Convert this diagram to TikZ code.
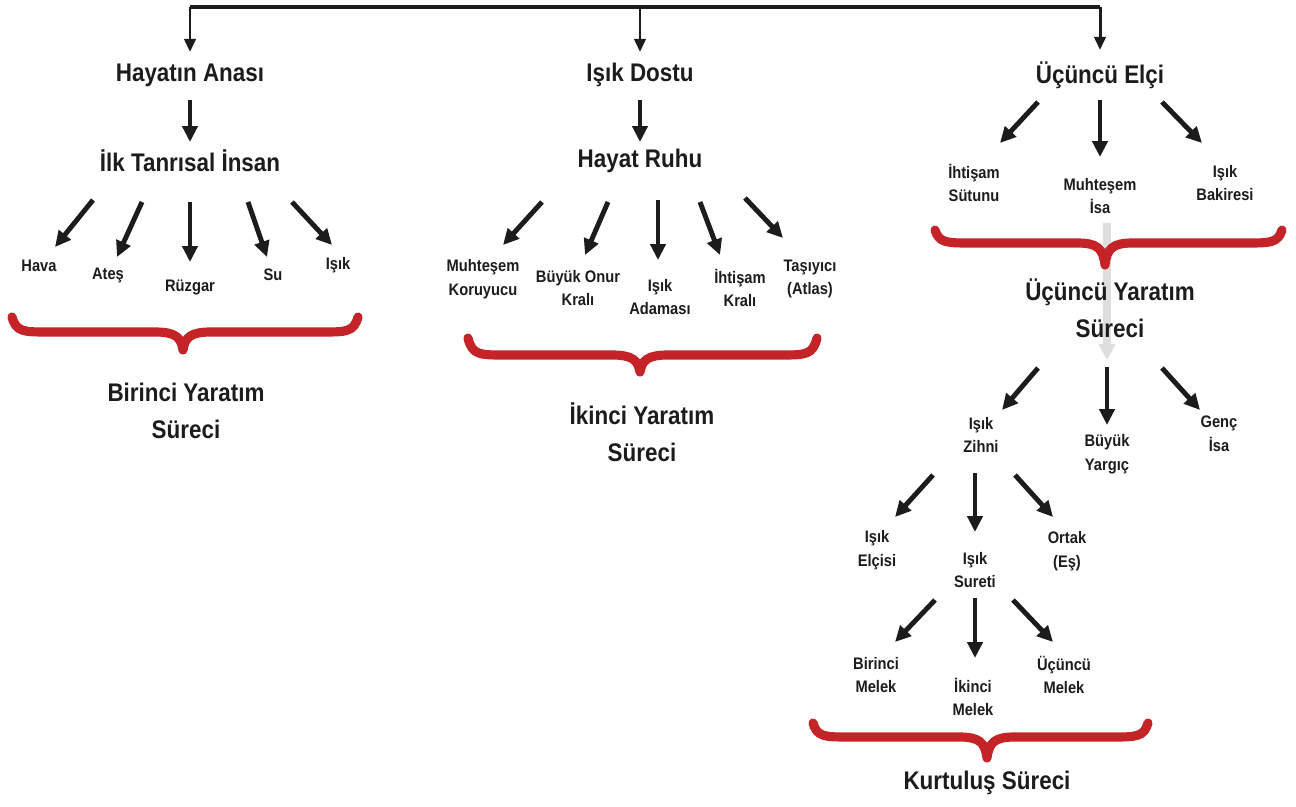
\documentclass[tikz,border=0pt]{standalone}
\usepackage{fontspec}
\setmainfont{Liberation Sans}[FakeStretch=0.88]
\usetikzlibrary{arrows.meta,calc,backgrounds}
\definecolor{bracered}{RGB}{196,36,40}
\definecolor{txt}{RGB}{28,28,28}
\definecolor{ghost}{RGB}{222,222,222}
\newcommand\redbrace[6]{%
  \draw[bracestyle] (#1,#3) .. controls (#1+4,#4) and (#1+12,#4) .. (#1+35,#4)
    -- (#5-28,#4) .. controls (#5-8,#4) and (#5-2,#4+5) .. (#5,#6)
    .. controls (#5+2,#4+5) and (#5+8,#4) .. (#5+28,#4)
    -- (#2-35,#4) .. controls (#2-12,#4) and (#2-4,#4) .. (#2,#3);}
\begin{document}
\begin{tikzpicture}[x=0.02cm,y=-0.02cm,
  big/.style={font=\fontsize{14.5}{21}\selectfont\bfseries, text=txt, align=center, inner sep=0pt},
  small/.style={font=\fontsize{9.5}{13.5}\selectfont\bfseries, text=txt, align=center, inner sep=0pt},
  arr/.style={line width=2.8pt, draw=txt, -{Triangle[width=8.5pt,length=9pt]}},
  toparr/.style={line width=1.7pt, draw=txt, -{Triangle[width=6.5pt,length=7.5pt]}},
  topline/.style={line width=2.2pt, draw=txt, line cap=square},
  bracestyle/.style={draw=bracered, line width=5.2pt, line cap=round, line join=round},
  ghostarr/.style={draw=ghost, line width=4pt, -{Triangle[width=9pt,length=9pt]}}]
\useasboundingbox (0,0) rectangle (1296,807);

% ---- first column
\node[big] (hayat) at (190,75) {Hayatın Anası};
\node[big] (ilk) at (190,161) {İlk Tanrısal İnsan};
\node[small] (hava) at (39,266) {Hava};
\node[small] (ates) at (108,275) {Ateş};
\node[small] (ruzgar) at (190,287) {Rüzgar};
\node[small] (su) at (273,275) {Su};
\node[small] (isik1) at (338,265) {Işık};
\node[big] (bys) at (186,411) {Birinci Yaratım\\Süreci};

% ---- second column
\node[big] (dostu) at (640,75) {Işık Dostu};
\node[big] (ruhu) at (640,161) {Hayat Ruhu};
\node[small] (mk) at (483,279) {Muhteşem\\Koruyucu};
\node[small] (bok) at (578,288) {Büyük Onur\\Kralı};
\node[small] (ia) at (660,297) {Işık\\Adaması};
\node[small] (ik) at (740,288) {İhtişam\\Kralı};
\node[small] (ta) at (810,279) {Taşıyıcı\\(Atlas)};
\node[big] (iys) at (642,432) {İkinci Yaratım\\Süreci};

% ---- third column
\node[big] (elci) at (1100,75) {Üçüncü Elçi};
\node[small] (isut) at (974,183) {İhtişam\\Sütunu};
\node[small] (mi) at (1100,196) {Muhteşem\\İsa};
\node[small] (ib) at (1225,183) {Işık\\Bakiresi};
\node[big] (uy) at (1110,308) {Üçüncü Yaratım\\Süreci};
\node[small] (zi) at (981,435) {Işık\\Zihni};
\node[small] (by) at (1107,454) {Büyük\\Yargıç};
\node[small] (gi) at (1219,434) {Genç\\İsa};
\node[small] (ie) at (877,550) {Işık\\Elçisi};
\node[small] (is2) at (975,570) {Işık\\Sureti};
\node[small] (oe) at (1067,551) {Ortak\\(Eş)};
\node[small] (bm) at (876,675) {Birinci\\Melek};
\node[small] (im) at (973,697) {İkinci\\Melek};
\node[small] (um) at (1064,675) {Üçüncü\\Melek};
\node[big] (ks) at (987,783) {Kurtuluş Süreci};

% ---- white page and faint arrow behind the texts
\begin{scope}[on background layer]
\fill[white] (0,0) rectangle (1296,807);
\draw[ghostarr] ($(mi)+(7,27)$) -- ($(uy)+(-3,52)$);
\end{scope}

% ---- top connector
\coordinate (tl) at (190,7);
\coordinate (tr) at (1100,7);
\draw[topline] (tl) -- (tr);
\draw[toparr] (tl) -- ($(hayat)+(0,-23)$);
\draw[toparr] (tl -| dostu) -- ($(dostu)+(0,-23)$);
\draw[toparr] (tr) -- ($(elci)+(0,-25)$);

% ---- arrows column 1
\draw[arr] ($(hayat)+(0,25)$) -- ($(ilk)+(0,-19)$);
\draw[arr] ($(ilk)+(-97,39)$) -- ($(hava)+(16,-19)$);
\draw[arr] ($(ilk)+(-48,41)$) -- ($(ates)+(9,-18)$);
\draw[arr] ($(ilk)+(0,41)$) -- ($(ruzgar)+(0,-25)$);
\draw[arr] ($(ilk)+(58,41)$) -- ($(su)+(-6,-18)$);
\draw[arr] ($(ilk)+(102,41)$) -- ($(isik1)+(-6,-20)$);

% ---- arrows column 2
\draw[arr] ($(dostu)+(0,25)$) -- ($(ruhu)+(0,-19)$);
\draw[arr] ($(ruhu)+(-98,41)$) -- ($(mk)+(20,-34)$);
\draw[arr] ($(ruhu)+(-32,41)$) -- ($(bok)+(7,-33)$);
\draw[arr] ($(ruhu)+(18,39)$) -- ($(ia)+(-2,-37)$);
\draw[arr] ($(ruhu)+(60,41)$) -- ($(ik)+(-20,-33)$);
\draw[arr] ($(ruhu)+(105,37)$) -- ($(ta)+(-27,-41)$);

% ---- arrows column 3
\draw[arr] ($(elci)+(-62,27)$) -- ($(isut)+(26,-40)$);
\draw[arr] ($(elci)+(0,25)$) -- ($(mi)+(0,-39)$);
\draw[arr] ($(elci)+(62,27)$) -- ($(ib)+(-23,-40)$);
\draw[arr] ($(uy)+(-72,60)$) -- ($(zi)+(21,-25)$);
\draw[arr] ($(uy)+(-3,59)$) -- ($(by)+(0,-29)$);
\draw[arr] ($(uy)+(52,60)$) -- ($(gi)+(-19,-24)$);
\draw[arr] ($(zi)+(-48,40)$) -- ($(ie)+(18,-33)$);
\draw[arr] ($(zi)+(-6,38)$) -- ($(is2)+(0,-38)$);
\draw[arr] ($(zi)+(34,40)$) -- ($(oe)+(-14,-34)$);
\draw[arr] ($(is2)+(-40,30)$) -- ($(bm)+(19,-33)$);
\draw[arr] ($(is2)+(0,28)$) -- ($(im)+(2,-39)$);
\draw[arr] ($(is2)+(38,30)$) -- ($(um)+(-11,-33)$);

% ---- braces
\redbrace{12}{358}{317}{332}{183}{350}
\redbrace{468}{817}{338}{355}{640}{372}
\redbrace{935}{1282}{230}{243}{1105}{265}
\redbrace{813}{1148}{723}{737}{987}{758}
\end{tikzpicture}
\end{document}
